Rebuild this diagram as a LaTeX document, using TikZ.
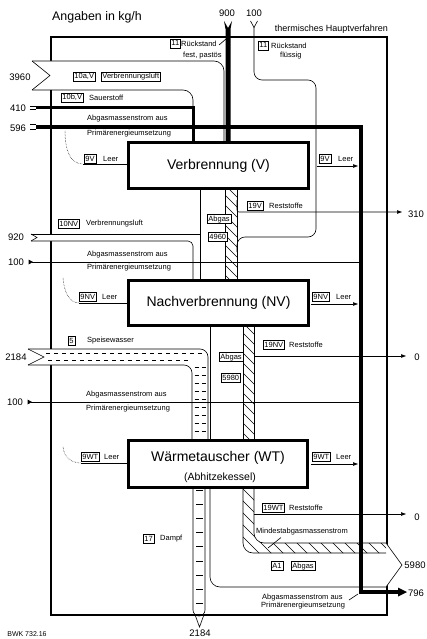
\documentclass[tikz,border=0pt]{standalone}
\usepackage{fontspec}
\setmainfont{Liberation Sans}
\usetikzlibrary{arrows.meta}
\begin{document}
\begin{tikzpicture}[x=1pt,y=-1pt,
  small/.style={font=\fontsize{7.5}{9}\selectfont, inner sep=0pt, anchor=west},
  tag/.style={draw, fill=white, line width=0.5pt, font=\fontsize{7.5}{9}\selectfont, inner xsep=1.2pt, inner ysep=0.8pt, text height=5.5pt, text depth=1.5pt, anchor=west},
  num/.style={font=\fontsize{9.5}{11}\selectfont, inner sep=0pt},
  proc/.style={draw, line width=3pt, fill=white, minimum width=180pt, minimum height=45pt, inner sep=0pt, font=\fontsize{14}{16}\selectfont},
  ln/.style={line width=0.6pt},
  frameline/.style={line width=2pt},
  flowarrow/.style={ln, -{Triangle[length=5pt,width=3.5pt]}},
  hatchline/.style={line width=0.5pt},
  dotline/.style={line width=0.5pt, densely dotted},
  dashmark/.style={line width=0.8pt},
]
\useasboundingbox (0,0) rectangle (426,639);

% ---------- frame and headings
\draw[frameline] (51,37) rectangle (387,615);
\node[font=\fontsize{12.4}{14}\selectfont, anchor=west, inner sep=0pt] (title) at (52,17) {Angaben in kg/h};
\node[font=\fontsize{9}{11}\selectfont, anchor=east, inner sep=0pt] (hv) at (388,29) {thermisches Hauptverfahren};

% ---------- white fills of bands (cover frame)
\fill[white] (32,61) -- (224,61) -- (224,143) -- (193,143) -- (193,90) -- (32,90) -- (50,75.5) -- cycle;
\fill[white] (31,234) -- (200,234) -- (200,280) -- (193,280) -- (193,241) -- (31,241) -- (37,237.5) -- cycle;
\fill[white] (28,349) -- (208,349) -- (208,440) -- (192,440) -- (192,365) -- (28,365) -- (44,357) -- cycle;
\fill[white] (380,543) -- (386,543) -- (402,565) -- (386,587) -- (380,587) -- cycle;

% ---------- hatching (Mindestabgasmassenstrom)
\begin{scope}
  \clip (225,188) rectangle (237,280);
  \foreach \c in {-120,-110,...,120} \draw[hatchline] (\c+150,150) -- (\c+350,350);
\end{scope}
\begin{scope}
  \clip (243,325) rectangle (254,440);
  \foreach \c in {-260,-250,...,-40} \draw[hatchline] (\c+300,300) -- (\c+480,480);
\end{scope}
\begin{scope}
  \clip (243,487) -- (243,543) arc[start angle=180,end angle=90,radius=10] -- (386,553) -- (386,543) -- (264,543) arc[start angle=90,end angle=180,radius=10] -- (254,487) -- cycle;
  \foreach \c in {-330,-318,...,-80} \draw[hatchline] (\c+480,480) -- (\c+600,600);
\end{scope}

% ---------- 3960 Verbrennungsluft (V)
\draw[ln] (32,61) -- (214,61) arc[start angle=-90,end angle=0,radius=10] -- (224,143);
\draw[ln] (32,90) -- (183,90) arc[start angle=-90,end angle=0,radius=10] -- (193,143);
\draw[ln] (32,61) -- (50,75.5) -- (32,90);

% ---------- 410 Sauerstoff
\draw[line width=3pt] (36,108) -- (193,108) -- (193,143);
\draw[ln] (30,106.3) -- (36,106.3) (30,109.7) -- (36,109.7);

% ---------- 100 Rueckstand fluessig
\draw[ln, rounded corners=8pt] (254,27) -- (254,80) -- (316,80) -- (316,237) -- (237,237) -- (237,252);
\draw[ln] (250.5,21) -- (254,27.5) -- (257.5,21);

% ---------- 900 Rueckstand fest
\fill (224,21) -- (228,28) -- (232,21) -- (230.5,29) -- (230.5,143) -- (225.5,143) -- (225.5,29) -- cycle;
\draw[ln] (219,45) -- (226,39);

% ---------- Abgas V -> NV
\draw[ln] (200,188) -- (200,280);
\draw[ln] (225,188) -- (225,280);
\draw[ln] (237,188) -- (237,280);
\draw[flowarrow, rounded corners=2pt] (237,200) -- (237,212) -- (402,212);

% ---------- 920 Verbrennungsluft (NV)
\draw[ln] (31,234) -- (200,234);
\draw[ln] (31,241) -- (188,241) arc[start angle=-90,end angle=0,radius=5] -- (193,280);
\draw[ln] (31,234) -- (37,237.5) -- (31,241);

% ---------- Speisewasser 2184
\draw[ln] (28,349) -- (200,349) arc[start angle=-90,end angle=0,radius=8] -- (208,440);
\draw[ln] (28,365) -- (184,365) arc[start angle=-90,end angle=0,radius=8] -- (192,440);
\draw[ln] (28,349) -- (44,357) -- (28,365);
\draw[dashmark, dash pattern=on 4pt off 4pt] (46,353.5) -- (202,353.5);
\draw[dashmark, dash pattern=on 4pt off 4pt, dash phase=4pt] (44,360.5) -- (188,360.5);
\foreach \y in {367,375,...,437} \draw[dashmark] (194.5,\y) -- (198.5,\y) (201.5,\y) -- (205.5,\y);

% ---------- Abgas NV -> WT
\draw[ln] (210,325) -- (210,440);
\draw[ln] (243,325) -- (243,440);
\draw[ln] (254,325) -- (254,440);
\draw[flowarrow] (254,356) -- (406,356);

% ---------- Abgas WT -> out (5980)
\draw[ln] (210,487) -- (210,577) arc[start angle=180,end angle=90,radius=10] -- (386,587) -- (402,565) -- (386,543) -- (264,543) arc[start angle=90,end angle=180,radius=10] -- (254,487);
\draw[ln] (243,487) -- (243,543) arc[start angle=180,end angle=90,radius=10] -- (386,553);
\draw[flowarrow] (254,514) -- (406,514);
\draw[ln] (281,537.5) -- (268,548);

% ---------- Dampf 2184
\draw[ln] (193,487) -- (193,610) arc[start angle=180,end angle=0,radius=6] -- (205,487);
\draw[ln] (195.5,616) -- (199.5,627) -- (203.5,616);
\foreach \i in {0,...,8} \draw[line width=1pt] (196,490+14.2*\i) -- (202.5,490+14.2*\i);

% ---------- 100 lines (Primaerenergieumsetzung)
\draw[ln] (32,262) -- (361,262);
\fill (28.5,259.5) -- (33,262) -- (28.5,264.5) -- cycle;
\draw[ln] (31,402) -- (361,402);
\fill (27.5,399.5) -- (32,402) -- (27.5,404.5) -- cycle;

% ---------- 596 / 796 thick line
\draw[line width=4.5pt] (36,127) -- (361,127) -- (361,592) -- (399,592);
\fill (398,587.5) -- (407,592) -- (398,596.5) -- cycle;
\draw[ln] (30,124.8) -- (36,124.8) (30,129.2) -- (36,129.2);
\draw[ln] (349,600) -- (358,594);

% ---------- Leer flows
\draw[dotline] (65,131) .. controls (65,150) and (70,164) .. (83,164);
\draw[ln] (83,164) -- (127,164);
\draw[flowarrow] (317,166) -- (358,166);
\draw[dotline] (63,278) .. controls (64,293) and (70,303) .. (79,303);
\draw[ln] (79,303) -- (127,303);
\draw[flowarrow] (311,304) -- (358,304);
\draw[dotline] (63,447) .. controls (64,457) and (71,463) .. (81,463);
\draw[ln] (81,463) -- (127,463);
\draw[flowarrow] (311,464) -- (358,464);

% ---------- process boxes
\node[proc] (V) at (218.5,165.5) {Verbrennung (V)};
\node[proc] (NV) at (218.5,302.5) {Nachverbrennung (NV)};
\node[proc, minimum width=179pt, minimum height=47pt] (WT) at (217.5,463.5) {};
\node[font=\fontsize{14}{16}\selectfont, inner sep=0pt] (WTa) at (218,458) {Wärmetauscher (WT)};
\node[font=\fontsize{10.5}{12}\selectfont, inner sep=0pt] (WTb) at (220,478) {(Abhitzekessel)};

% ---------- numbers
\node[num] (n900) at (227,13) {900};
\node[num] (n100t) at (254,13) {100};
\node[num] (n3960) at (20,77) {3960};
\node[num] (n410) at (18,108) {410};
\node[num] (n596) at (18,128) {596};
\node[num] (n920) at (16,237) {920};
\node[num] (n100a) at (16,262) {100};
\node[num] (n2184) at (16,357) {2184};
\node[num] (n100b) at (15,402) {100};
\node[num] (n310) at (416,214) {310};
\node[num] (n0a) at (417,357) {0};
\node[num] (n0b) at (417,517) {0};
\node[num] (n5980) at (415,565) {5980};
\node[num] (n796) at (416,593) {796};
\node[num] (n2184b) at (200,633.5) {2184};
\node[font=\fontsize{7}{8}\selectfont, inner sep=0pt] (bwk) at (27,634) {BWK 732.16};

% ---------- labels
\node[tag] (t11a) at (170,44) {11};
\node[small] (l11a) at (181,44) {Rückstand};
\node[small] (l11b) at (183,56) {fest, pastös};
\node[tag] (t11b) at (258,46) {11};
\node[small] (l11c) at (271,46) {Rückstand};
\node[small] (l11d) at (280,55.5) {flüssig};

\node[tag] (t10a) at (73,77) {10a,V};
\node[tag] (t10al) at (101,77) {Verbrennungsluft};
\node[tag] (t10b) at (61,98) {10b,V};
\node[small] (l10b) at (89,98) {Sauerstoff};
\node[small] (a1) at (87,119) {Abgasmassenstrom aus};
\node[small] (p1) at (87,134) {Primärenergieumsetzung};

\node[tag] (t9Vl) at (84,159) {9V};
\node[small] (l9Vl) at (103,159) {Leer};
\node[tag] (t9Vr) at (319,159) {9V};
\node[small] (l9Vr) at (338,159) {Leer};

\node[tag] (t19V) at (247,206) {19V};
\node[small] (l19V) at (269,206) {Reststoffe};
\node[tag] (tabg1) at (207,219) {Abgas};
\node[tag] (t4960) at (208,237) {4960};

\node[tag] (t10NV) at (58,224) {10NV};
\node[small] (l10NV) at (86,224) {Verbrennungsluft};
\node[small] (a2) at (87,255) {Abgasmassenstrom aus};
\node[small] (p2) at (87,268) {Primärenergieumsetzung};

\node[tag] (t9NVl) at (79,297) {9NV};
\node[small] (l9NVl) at (102,297) {Leer};
\node[tag] (t9NVr) at (312,297) {9NV};
\node[small] (l9NVr) at (336,297) {Leer};

\node[tag] (t5) at (68,341) {5};
\node[small] (l5) at (87,341) {Speisewasser};
\node[tag] (t19NV) at (263,345) {19NV};
\node[small] (l19NV) at (289,345) {Reststoffe};
\node[tag] (tabg2) at (219,357) {Abgas};
\node[tag] (t5980) at (221,378) {5980};

\node[small] (a3) at (86,395) {Abgasmassenstrom aus};
\node[small] (p3) at (86,409) {Primärenergieumsetzung};

\node[tag] (t9WTl) at (81,457) {9WT};
\node[small] (l9WTl) at (104,457) {Leer};
\node[tag] (t9WTr) at (312,457) {9WT};
\node[small] (l9WTr) at (336,457) {Leer};

\node[tag] (t19WT) at (262,508) {19WT};
\node[small] (l19WT) at (289,508) {Reststoffe};
\node[small] (lmin) at (256,532) {Mindestabgasmassenstrom};
\node[tag] (t17) at (143,539) {17};
\node[small] (l17) at (160,539) {Dampf};
\node[tag] (tA1) at (271,566) {A1};
\node[tag] (tabg3) at (291,566) {Abgas};
\node[small] (a4) at (262,598) {Abgasmassenstrom aus};
\node[small] (p4) at (261,606) {Primärenergieumsetzung};
\end{tikzpicture}
\end{document}
